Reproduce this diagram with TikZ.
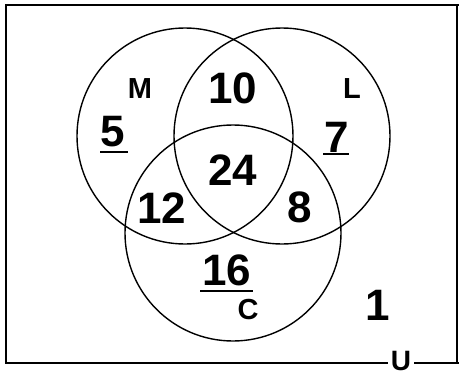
\documentclass[tikz,border=0pt]{standalone}
\usepackage{fontspec}
\setmainfont{Liberation Sans}
\begin{document}
\begin{tikzpicture}[x=1pt,y=-1pt,
  setc/.style={circle,draw,line width=1.4pt,minimum size=216pt,inner sep=0pt},
  num/.style={font=\fontsize{44}{44}\selectfont\bfseries,inner sep=0pt},
  lab/.style={font=\fontsize{29}{29}\selectfont\bfseries,inner sep=0pt},
  uline/.style={line width=2pt}]
\useasboundingbox (0,0) rectangle (459,378);
\draw[line width=1.8pt] (457,363) -- (6,363) -- (6,5) -- (459,5);
\draw[line width=1.8pt] (457,5) -- (457,363) -- (459,363);
\node[setc] (cm) at (185,136) {};
\node[setc] (cl) at (282,136) {};
\node[setc] (cc) at (233,233) {};
\node[lab] (M) at (140,89) {M};
\node[lab] (L) at (352,89) {L};
\node[lab] (C) at (248,310) {C};
\node[num] (n10) at (233,88) {10};
\node[num] (n5) at (113,132) {5};
\node[num] (n7) at (337,137) {7};
\node[num] (n24) at (233,170) {24};
\node[num] (n12) at (162,208) {12};
\node[num] (n8) at (300,207) {8};
\node[num] (n16) at (227,270) {16};
\node[num] (n1) at (378,305) {1};
\draw[uline] (100,152) -- (128,152);
\draw[uline] (323,154) -- (349,154);
\draw[uline] (200,291) -- (253,291);
\node[lab,fill=white,inner xsep=3pt,inner ysep=0pt,font=\fontsize{28}{28}\selectfont\bfseries] (U) at (401,361) {U};
\end{tikzpicture}
\end{document}
